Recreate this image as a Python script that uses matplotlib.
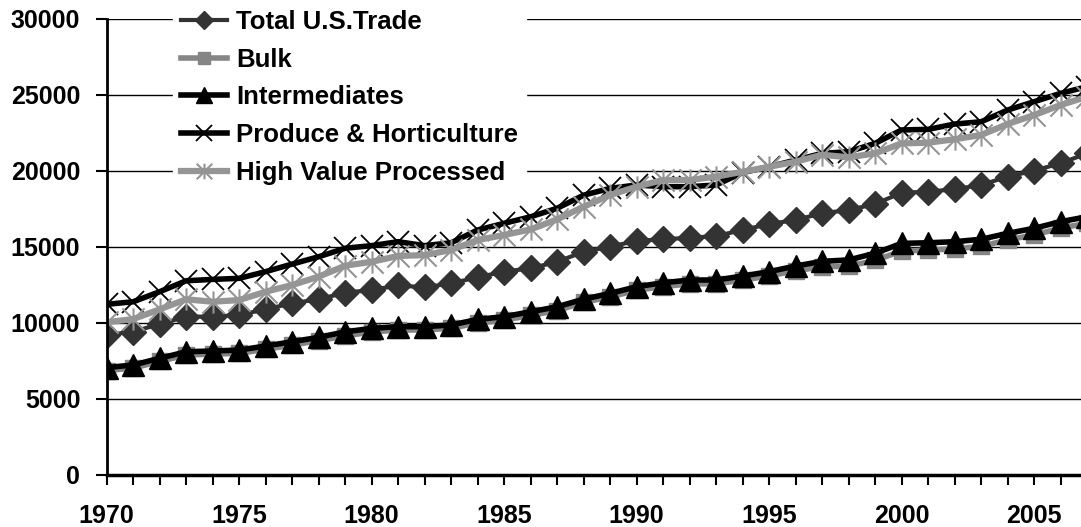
import numpy as np
import matplotlib.pyplot as plt
from matplotlib.path import Path
from matplotlib.ticker import MultipleLocator

plt.rcParams['font.family'] = ['Liberation Sans', 'DejaVu Sans']
plt.rcParams['font.weight'] = 'bold'

years = list(range(1970, 2008))

total = [9190, 9410, 9910, 10400, 10400, 10510, 10880, 11280, 11540, 11980,
         12150, 12450, 12330, 12590, 12990, 13360, 13580, 14010, 14670, 15000,
         15390, 15490, 15590, 15700, 16100, 16490, 16760, 17200, 17410, 17810,
         18550, 18620, 18780, 19060, 19610, 20000, 20490, 21140]
bulk = [6850, 7020, 7450, 7880, 7930, 7990, 8250, 8530, 8820, 9120,
        9400, 9510, 9530, 9630, 9990, 10170, 10480, 10800, 11340, 11700,
        12130, 12380, 12550, 12560, 12800, 13080, 13420, 13680, 13720, 14100,
        14720, 14770, 14860, 15020, 15450, 15780, 16220, 16550]
intermediates = [7050, 7220, 7660, 8090, 8140, 8200, 8470, 8750, 9040, 9400,
                 9630, 9740, 9740, 9850, 10220, 10400, 10720, 11050, 11550, 11930,
                 12370, 12630, 12810, 12810, 13070, 13360, 13730, 14040, 14130, 14570,
                 15220, 15260, 15330, 15490, 15880, 16210, 16650, 16970]
produce = [11210, 11380, 12040, 12760, 12850, 12920, 13360, 13860, 14340, 14900,
           15070, 15330, 15070, 15260, 16100, 16540, 16970, 17530, 18390, 18840,
           19060, 18950, 18950, 19060, 19880, 20260, 20700, 21140, 21250, 21800,
           22680, 22720, 23070, 23220, 23990, 24540, 25090, 25530]
high_value = [10030, 10240, 10880, 11540, 11380, 11490, 12040, 12480, 13030, 13750,
              14010, 14390, 14450, 14780, 15440, 15770, 16140, 16800, 17630, 18400,
              18950, 19390, 19390, 19610, 19930, 20260, 20590, 21050, 20880, 21140,
              21800, 21840, 22070, 22350, 23070, 23660, 24320, 24870]

labels = ['Total U.S.Trade', 'Bulk', 'Intermediates',
          'Produce & Horticulture', 'High Value Processed']

# asterisk marker: vertical bar plus an x
star = Path([(0, -0.5), (0, 0.5), (-0.5, -0.5), (0.5, 0.5), (-0.5, 0.5), (0.5, -0.5)],
            [Path.MOVETO, Path.LINETO] * 3)

fig = plt.figure(figsize=(10.81, 5.27), dpi=100)
ax = fig.add_axes([0.0987, 0.0992, 0.9013, 0.8653])

ax.plot(years, total, color='#333333', lw=3, marker='D', ms=13,
        mec='#333333', mfc='#333333', label=labels[0])
ax.plot(years, bulk, color='#858585', lw=4, marker='s', ms=12,
        mec='#858585', mfc='#858585', label=labels[1])
ax.plot(years, intermediates, color='black', lw=4, marker='^', ms=16,
        mec='black', mfc='black', label=labels[2])
ax.plot(years, produce, color='black', lw=4, marker='x', ms=16,
        mec='black', mew=1.3, label=labels[3])
ax.plot(years, high_value, color='#959595', lw=4.5, marker=star, ms=16,
        mec='#959595', mew=1.5, label=labels[4])

ax.set_xlim(1970, 2006.77)
ax.set_ylim(0, 30000)
ax.xaxis.set_major_locator(MultipleLocator(5))
ax.xaxis.set_minor_locator(MultipleLocator(1))
ax.yaxis.set_major_locator(MultipleLocator(5000))
ax.grid(axis='y', color='black', lw=1)
ax.set_axisbelow(True)

for s in ['top', 'right']:
    ax.spines[s].set_visible(False)
ax.spines['left'].set_linewidth(2)
ax.spines['bottom'].set_linewidth(2.5)
ax.tick_params(axis='x', which='both', length=7, width=1.5, direction='out',
               labelsize=18, pad=14)
ax.tick_params(axis='y', length=8, width=1.5, direction='out', labelsize=18, pad=11)

leg = ax.legend(loc='upper left', bbox_to_anchor=(0.055, 1.064), frameon=True,
                fontsize=18.5, handlelength=1.8, handletextpad=0.35,
                labelspacing=0.53, borderpad=0.3, markerscale=0.7)
leg.get_frame().set_edgecolor('white')
leg.get_frame().set_facecolor('white')
leg.get_frame().set_alpha(1)

fig.savefig('out.png', dpi=100)
